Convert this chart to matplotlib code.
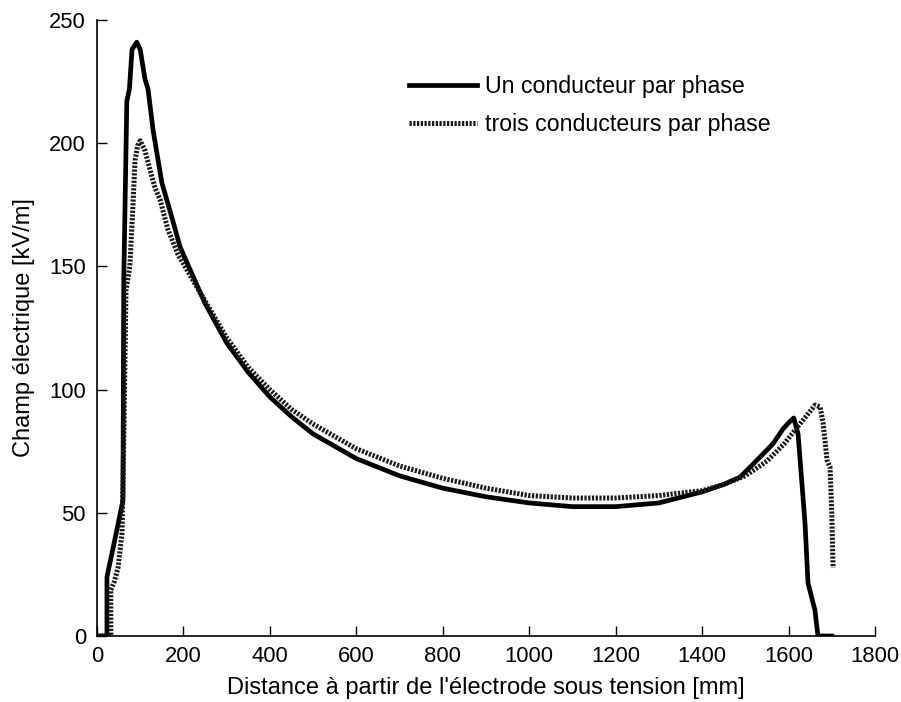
import matplotlib
matplotlib.use("Agg")
import matplotlib.pyplot as plt

plt.rcParams['font.family'] = ['Liberation Sans', 'DejaVu Sans']

# Un conducteur par phase
x_un = [0, 23, 23, 40, 60, 62, 65, 69, 75, 81, 92, 100, 111, 118, 130, 150, 173, 192, 222,
        250, 300, 350, 400, 450, 500, 600, 700, 800, 900, 1000, 1100, 1200, 1300, 1400,
        1450, 1488, 1534, 1564, 1587, 1600, 1612, 1622, 1638, 1645, 1661, 1668, 1700]
y_un = [0, 0, 24, 38, 55, 145, 176, 217, 222, 238, 241, 238, 226, 222, 205, 184, 170, 158, 146,
        135, 119, 107, 97, 89, 82, 72, 65, 60, 56.5, 54, 52.5, 52.5, 54, 58.5,
        61.5, 64.5, 72.6, 78, 84, 86.5, 88.5, 82, 46, 21.5, 10.5, 0, 0]

# trois conducteurs par phase
x_trois = [0, 32, 32, 40, 49, 58, 62, 67, 76, 83, 88, 94, 100, 111, 123, 134, 146, 164, 187,
           220, 250, 300, 350, 400, 450, 500, 600, 700, 800, 900, 1000, 1100, 1200, 1300,
           1400, 1450, 1500, 1550, 1590, 1615, 1643, 1661, 1673, 1680, 1689, 1696, 1700, 1703]
y_trois = [0, 0, 18.7, 22, 28, 42, 80, 140, 150, 174, 193, 199, 201, 197, 189, 182, 177, 165, 155,
           145, 136, 121, 109, 100, 92, 86, 76, 69, 64, 60, 57, 56, 56, 57,
           59, 61.5, 65, 71, 78, 83.6, 89.7, 93.7, 93, 86.4, 71.4, 68.6, 50, 27.6]

xticks = [0, 200, 400, 600, 800, 1000, 1200, 1400, 1600, 1800]
yticks = [0, 50, 100, 150, 200, 250]

fig = plt.figure(figsize=(9.01, 7.02), dpi=100)
ax = fig.add_axes([97/901, 66/702, 778/901, 616/702])

ax.plot(x_un, y_un, color='black', lw=3.4, solid_joinstyle='round',
        label='Un conducteur par phase')
ax.plot(x_trois, y_trois, color='#1a1a1a', lw=3.6, linestyle=(0, (0.45, 0.3)),
        dash_capstyle='butt', label='trois conducteurs par phase')

ax.set_xlim(0, 1800)
ax.set_ylim(0, 250)
ax.set_xticks(xticks)
ax.set_yticks(yticks)
ax.tick_params(direction='in', length=7, width=1, labelsize=15.8)
ax.tick_params(axis='x', pad=7.5)
ax.tick_params(axis='y', pad=8)
for s in ['top', 'right']:
    ax.spines[s].set_visible(False)
for s in ['left', 'bottom']:
    ax.spines[s].set_linewidth(1.2)

ax.set_xlabel("Distance à partir de l'électrode sous tension [mm]", fontsize=17, labelpad=7)
ax.set_ylabel("Champ électrique [kV/m]", fontsize=17, labelpad=10)

ax.legend(loc='upper left', bbox_to_anchor=(0.374, 0.945), frameon=False, fontsize=16.7,
          handlelength=2.95, handletextpad=0.35, labelspacing=0.66)

fig.savefig('out.png', dpi=100)
